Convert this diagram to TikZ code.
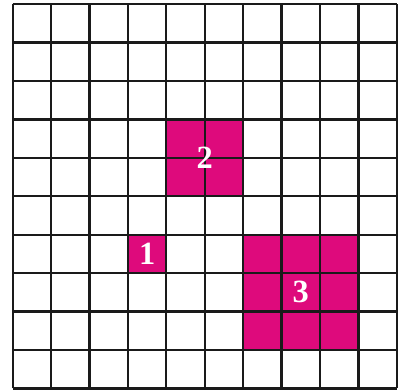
\documentclass[tikz,border=0pt]{standalone}
\usepackage{fontspec}
\newfontfamily\numfont{Liberation Serif Bold}
\usepackage{tikz}
\definecolor{rubine}{HTML}{DE0A7C}
\definecolor{gridblack}{HTML}{1A1A1A}
\tikzset{
  numlabel/.style={text=white,font=\numfont\fontsize{24}{27}\selectfont,inner sep=0pt}
}

\begin{document}
\begin{tikzpicture}[scale=1]
\useasboundingbox (-0.33,-0.09) rectangle (10.03,10.11);
% coloured figures
\fill[rubine] (3,3) rectangle (4,4);
\fill[rubine] (4,5) rectangle (6,7);
\fill[rubine] (6,1) rectangle (9,4);
% grid
\draw[gridblack,line width=1.7pt] (0,0) grid (10,10);
% labels
\node[numlabel] (one) at (3.5,3.5) {1};
\node[numlabel] (two) at (5,6) {2};
\node[numlabel] (three) at (7.5,2.5) {3};
\end{tikzpicture}
\end{document}
